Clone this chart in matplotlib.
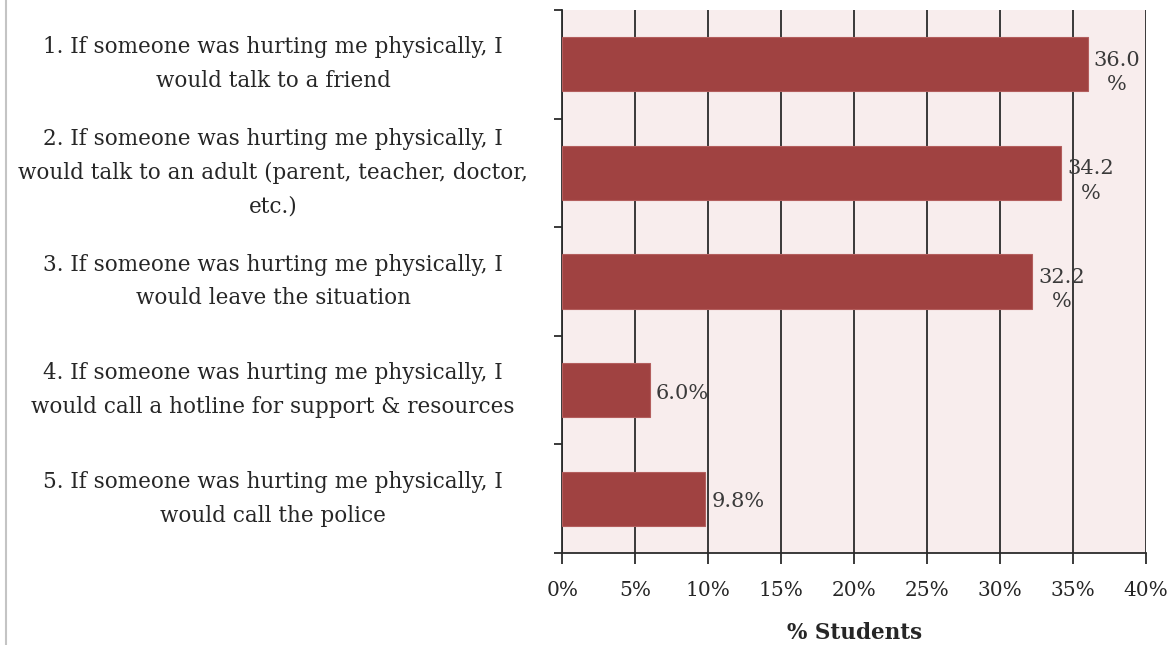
import numpy as np
import matplotlib.pyplot as plt
from matplotlib.lines import Line2D
from matplotlib.ticker import FixedLocator

# survey answers, top to bottom
labels = [
    "1. If someone was hurting me physically, I\nwould talk to a friend",
    "2. If someone was hurting me physically, I\nwould talk to an adult (parent, teacher, doctor,\netc.)",
    "3. If someone was hurting me physically, I\nwould leave the situation",
    "4. If someone was hurting me physically, I\nwould call a hotline for support & resources",
    "5. If someone was hurting me physically, I\nwould call the police",
]
pct = [36.0, 34.2, 32.2, 6.0, 9.8]
pct_text = ["36.0\n%", "34.2\n%", "32.2\n%", "6.0%", "9.8%"]
xticks = [0, 5, 10, 15, 20, 25, 30, 35, 40]

plt.rcParams['font.family'] = ['DejaVu Serif']
bar_col = '#a04241'
bg_col = '#f8eded'
txt_col = '#262626'

fig = plt.figure(figsize=(11.76, 6.45), dpi=100)
ax = fig.add_axes([0.478, 0.1426, 0.4966, 0.8419])
ax.set_facecolor(bg_col)

n = len(pct)
y = np.arange(n)
ax.barh(y, pct, height=0.5, color=bar_col, edgecolor='#b35e5d', linewidth=0.8, zorder=3)
ax.set_ylim(n - 0.5, -0.5)
ax.set_xlim(0, 40)

ax.set_xticks(xticks)
ax.set_xticklabels([f"{v}%" for v in xticks], fontsize=14.5, color=txt_col)
ax.xaxis.grid(True, color='#2b2b2b', linewidth=1.3, zorder=1)
ax.tick_params(axis='x', length=8, width=1.3, color='#2b2b2b', pad=12)

ax.set_yticks(y)
ax.set_yticklabels(labels, fontsize=15.5, color=txt_col, ha='center', va='center',
                   linespacing=1.7)
ax.yaxis.set_minor_locator(FixedLocator(np.arange(n + 1) - 0.5))
ax.tick_params(axis='y', which='major', length=0, pad=208)
ax.tick_params(axis='y', which='minor', length=6, width=1.3, color='#2b2b2b')

for s in ['top', 'right']:
    ax.spines[s].set_visible(False)
for s in ['left', 'bottom']:
    ax.spines[s].set_color('#2b2b2b')
    ax.spines[s].set_linewidth(1.3)

ax.set_xlabel("% Students", fontsize=15.5, fontweight='bold', color=txt_col, labelpad=16)

# value labels just past each bar end
for yi, v, t in zip(y, pct, pct_text):
    dy = 8 if "\n" in t else 3
    ax.annotate(t, (v, yi), xytext=(6, -dy), textcoords='offset pixels',
                ha='left', va='center', multialignment='center',
                fontsize=15, color='#3a3a3a', linespacing=1.35, zorder=4)

# thin frame line at the far left
fig.add_artist(Line2D([0.0055, 0.0055], [0, 1], transform=fig.transFigure,
                      color='#c4c4c4', linewidth=1.5))

fig.savefig("out.png", dpi=100)
